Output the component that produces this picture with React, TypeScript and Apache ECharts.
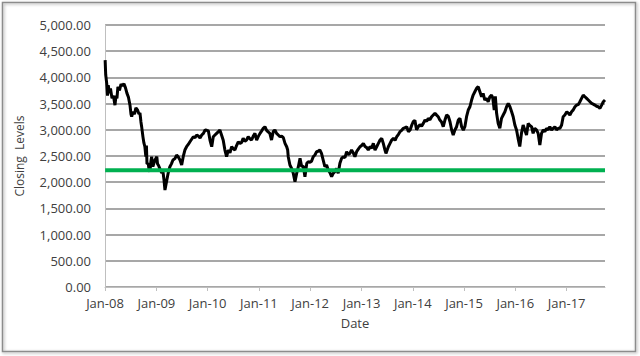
import React, { useEffect, useRef } from "react";
import * as echarts from "echarts";

const dates: string[] = [
  "2008-01-02","2008-01-06","2008-01-13","2008-01-19","2008-01-24","2008-02-02","2008-02-09","2008-02-20","2008-03-01","2008-03-12",
  "2008-03-19","2008-03-26","2008-04-02","2008-04-13","2008-04-24","2008-05-05","2008-05-15","2008-05-26","2008-06-05","2008-06-16",
  "2008-06-27","2008-07-04","2008-07-09","2008-07-18","2008-07-29","2008-08-08","2008-08-19","2008-08-30","2008-09-06","2008-09-13",
  "2008-09-18","2008-09-27","2008-10-04","2008-10-11","2008-10-18","2008-10-22","2008-10-26","2008-11-04","2008-11-09","2008-11-16",
  "2008-11-23","2008-11-28","2008-12-07","2008-12-22",
  "2009-01-04","2009-01-09","2009-01-15","2009-01-27","2009-02-08","2009-02-17","2009-02-24","2009-03-03","2009-03-10","2009-03-17",
  "2009-03-26","2009-04-07","2009-04-18","2009-04-29","2009-05-13","2009-05-25","2009-06-06","2009-06-18","2009-06-30","2009-07-11",
  "2009-07-23","2009-08-04","2009-08-16","2009-08-28","2009-09-09","2009-09-21","2009-10-03","2009-10-15","2009-10-27","2009-11-08",
  "2009-11-20","2009-12-02","2009-12-14","2009-12-26",
  "2010-01-06","2010-01-18","2010-01-30","2010-02-10","2010-02-22","2010-03-06","2010-03-17","2010-03-29","2010-04-10","2010-04-22",
  "2010-05-04","2010-05-16","2010-05-28","2010-06-09","2010-06-21","2010-07-02","2010-07-14","2010-07-26","2010-08-07","2010-08-19",
  "2010-08-31","2010-09-11","2010-09-23","2010-10-05","2010-10-17","2010-10-29","2010-11-10","2010-11-22","2010-12-04","2010-12-16",
  "2010-12-27",
  "2011-01-09","2011-01-21","2011-02-01","2011-02-13","2011-02-25","2011-03-08","2011-03-20","2011-04-01","2011-04-13","2011-04-25",
  "2011-05-07","2011-05-19","2011-05-31","2011-06-12","2011-06-24","2011-07-06","2011-07-18","2011-07-25","2011-07-29","2011-08-10",
  "2011-08-22","2011-09-03","2011-09-15","2011-09-27","2011-10-09","2011-10-21","2011-11-02","2011-11-13","2011-11-25","2011-12-08",
  "2011-12-19","2011-12-31",
  "2012-01-11","2012-01-23","2012-02-04","2012-02-16","2012-02-27","2012-03-10","2012-03-22","2012-04-03","2012-04-15","2012-04-27",
  "2012-05-09","2012-05-21","2012-06-02","2012-06-13","2012-06-25","2012-07-07","2012-07-19","2012-07-31","2012-08-12","2012-08-24",
  "2012-09-05","2012-09-17","2012-09-28","2012-10-10","2012-10-22","2012-11-03","2012-11-15","2012-11-27","2012-12-09","2012-12-21",
  "2013-01-02","2013-01-14","2013-01-26","2013-02-07","2013-02-18","2013-03-02","2013-03-14","2013-03-26","2013-04-07","2013-04-19",
  "2013-05-01","2013-05-13","2013-05-25","2013-06-05","2013-06-17","2013-06-24","2013-07-11","2013-07-23","2013-08-04","2013-08-16",
  "2013-08-28","2013-09-09","2013-09-20","2013-10-02","2013-10-14","2013-10-26","2013-11-07","2013-11-19","2013-12-01","2013-12-13",
  "2013-12-25",
  "2014-01-04","2014-01-16","2014-01-28","2014-02-09","2014-02-21","2014-03-05","2014-03-17","2014-03-29","2014-04-10","2014-04-21",
  "2014-05-03","2014-05-15","2014-05-27","2014-06-08","2014-06-20","2014-07-01","2014-07-13","2014-07-25","2014-08-06","2014-08-18",
  "2014-08-30","2014-09-11","2014-09-23","2014-10-05","2014-10-16","2014-10-28","2014-11-09","2014-11-21","2014-12-03","2014-12-15",
  "2014-12-27",
  "2015-01-07","2015-01-19","2015-01-31","2015-02-12","2015-02-24","2015-03-07","2015-03-19","2015-03-31","2015-04-12","2015-04-24",
  "2015-05-06","2015-05-17","2015-05-29","2015-06-10","2015-06-22","2015-07-04","2015-07-16","2015-07-25","2015-08-04","2015-08-12",
  "2015-08-21","2015-09-01","2015-09-13","2015-09-25","2015-10-07","2015-10-19","2015-10-31","2015-11-12","2015-11-24","2015-12-06",
  "2015-12-17","2015-12-29",
  "2016-01-10","2016-01-21","2016-02-02","2016-02-14","2016-02-26","2016-03-09","2016-03-21","2016-04-02","2016-04-14","2016-04-26",
  "2016-05-07","2016-05-19","2016-05-31","2016-06-12","2016-06-24","2016-07-06","2016-07-18","2016-07-30","2016-08-11","2016-08-22",
  "2016-09-03","2016-09-15","2016-09-27","2016-10-09","2016-10-21","2016-11-02","2016-11-14","2016-11-26","2016-12-07","2016-12-19",
  "2017-01-02","2017-01-12","2017-01-24","2017-02-05","2017-02-17","2017-03-01","2017-03-13","2017-03-24","2017-04-05","2017-04-17",
  "2017-04-29","2017-05-11","2017-05-23","2017-06-04","2017-06-16","2017-06-28","2017-07-09","2017-07-21","2017-08-02","2017-08-14",
  "2017-08-26","2017-09-07","2017-09-19","2017-10-01",
];

const closingLevels: number[] = [
  4330,4050,3890,3650,3850,3700,3790,3600,3650,3470,
  3650,3600,3820,3750,3870,3840,3880,3800,3700,3620,
  3470,3300,3250,3345,3300,3420,3380,3300,3320,3150,
  3060,2870,2750,2680,2490,2700,2350,2360,2250,2200,
  2400,2486,2300,2423,
  2486,2350,2328,2250,2175,2200,2050,1850,1950,2050,
  2175,2295,2350,2423,2450,2518,2480,2423,2328,2486,
  2614,2677,2720,2772,2820,2868,2850,2900,2880,2843,
  2900,2932,2996,2990,
  2980,2800,2677,2868,2900,2932,2960,2996,2900,2800,
  2614,2486,2614,2560,2677,2640,2614,2700,2772,2740,
  2760,2837,2780,2805,2868,2830,2805,2880,2932,2805,
  2870,
  2932,2980,3028,3059,2990,2960,2932,2805,2964,2996,
  2932,2900,2868,2880,2850,2741,2677,2614,2486,2328,
  2264,2169,2009,2169,2295,2455,2295,2310,2104,2360,
  2391,2380,
  2400,2486,2520,2582,2590,2614,2550,2423,2295,2328,
  2232,2180,2104,2169,2200,2264,2169,2360,2455,2486,
  2470,2582,2530,2550,2614,2560,2486,2582,2630,2677,
  2700,2741,2680,2660,2614,2677,2650,2741,2614,2677,
  2741,2805,2837,2741,2614,2550,2677,2741,2805,2837,
  2800,2868,2910,2964,2990,3028,3040,3059,2964,2996,
  3091,
  3154,3180,3000,3059,3100,3070,3123,3186,3160,3219,
  3190,3250,3282,3314,3280,3250,3186,3150,3059,3186,
  3282,3260,3154,2996,2900,2996,3059,3186,3219,3059,
  2996,
  3059,3250,3377,3440,3568,3663,3727,3791,3823,3727,
  3631,3695,3568,3600,3536,3631,3663,3600,3377,3640,
  3314,3123,3028,3219,3282,3345,3440,3504,3440,3345,
  3250,3091,
  2996,2837,2680,2932,3091,2996,2900,3123,3080,3059,
  2932,3028,3000,2932,2709,2932,3000,2964,3028,3000,
  3059,2996,3028,3059,3000,3028,3028,3091,3250,3282,
  3345,3320,3282,3345,3380,3440,3472,3480,3536,3600,
  3663,3631,3600,3568,3536,3504,3490,3472,3450,3440,
  3409,3472,3536,3568,
];

const thresholdLevel = 2230;
const tickYears: number[] = [2008, 2009, 2010, 2011, 2012, 2013, 2014, 2015, 2016, 2017];
const axisStartDate = "2008-01-01";
const axisEndDate = "2017-10-01";
const monthNames = ["Jan","Feb","Mar","Apr","May","Jun","Jul","Aug","Sep","Oct","Nov","Dec"];

function toTime(s: string): number {
  const [y, m, d] = s.split("-").map(Number);
  return new Date(y, m - 1, d).getTime();
}

export default function App() {
  const ref = useRef<HTMLDivElement>(null);
  useEffect(() => {
    if (!ref.current) return;
    const chart = echarts.init(ref.current, null, { renderer: "svg" });
    const tickValues = tickYears.map((y) => new Date(y, 0, 1).getTime());
    const tMin = toTime(axisStartDate);
    const tMax = toTime(axisEndDate);
    const font = "'Open Sans', sans-serif";
    chart.setOption({
      animation: false,
      backgroundColor: "#ffffff",
      graphic: [
        {
          type: "rect",
          shape: { x: 2.5, y: 2.5, width: 633, height: 349 },
          style: {
            fill: "none",
            stroke: "#8c8c8c",
            lineWidth: 1.5,
            shadowBlur: 3,
            shadowOffsetX: 1,
            shadowOffsetY: 1,
            shadowColor: "rgba(0,0,0,0.35)",
          },
          silent: true,
        },
      ],
      grid: { left: 105, right: 35, top: 25, bottom: 69, containLabel: false },
      xAxis: {
        type: "value",
        min: tMin,
        max: tMax,
        name: "Date",
        nameLocation: "middle",
        nameGap: 29,
        nameTextStyle: { color: "#404040", fontSize: 13, fontFamily: font },
        axisLine: { show: true, lineStyle: { color: "#bfbfbf", width: 1 } },
        axisTick: {
          show: true,
          customValues: tickValues,
          length: 4,
          lineStyle: { color: "#bfbfbf" },
        },
        axisLabel: {
          customValues: tickValues,
          color: "#404040",
          fontSize: 13,
          fontFamily: font,
          margin: 9,
          formatter: (v: number) => {
            const d = new Date(v);
            return monthNames[d.getMonth()] + "-" + String(d.getFullYear()).slice(2);
          },
        },
        splitLine: { show: false },
      },
      yAxis: {
        type: "value",
        min: 0,
        max: 5000,
        interval: 500,
        name: "Closing  Levels",
        nameLocation: "middle",
        nameGap: 80,
        nameTextStyle: { color: "#404040", fontSize: 12, fontFamily: font },
        axisLine: { show: true, lineStyle: { color: "#bfbfbf", width: 1 } },
        axisTick: { show: false },
        axisLabel: {
          color: "#404040",
          fontSize: 13,
          fontFamily: font,
          margin: 14,
          formatter: (v: number) =>
            v.toLocaleString("en-US", { minimumFractionDigits: 2, maximumFractionDigits: 2 }),
        },
        splitLine: { show: true, lineStyle: { color: "#8a8a8a", width: 1.5 } },
      },
      series: [
        {
          type: "line",
          name: "Closing Levels",
          data: dates.map((d, i) => [toTime(d), closingLevels[i]]),
          showSymbol: false,
          symbol: "none",
          lineStyle: { color: "#000000", width: 3 },
          z: 2,
        },
        {
          type: "line",
          name: "Threshold",
          data: [
            [toTime(dates[0]), thresholdLevel],
            [tMax, thresholdLevel],
          ],
          showSymbol: false,
          symbol: "none",
          lineStyle: { color: "#00b050", width: 4 },
          z: 3,
        },
      ],
    });
    return () => chart.dispose();
  }, []);
  return (
    <div
      ref={ref}
      style={{ position: "fixed", left: 0, top: 0, width: 640, height: 356, background: "#fff" }}
    />
  );
}
